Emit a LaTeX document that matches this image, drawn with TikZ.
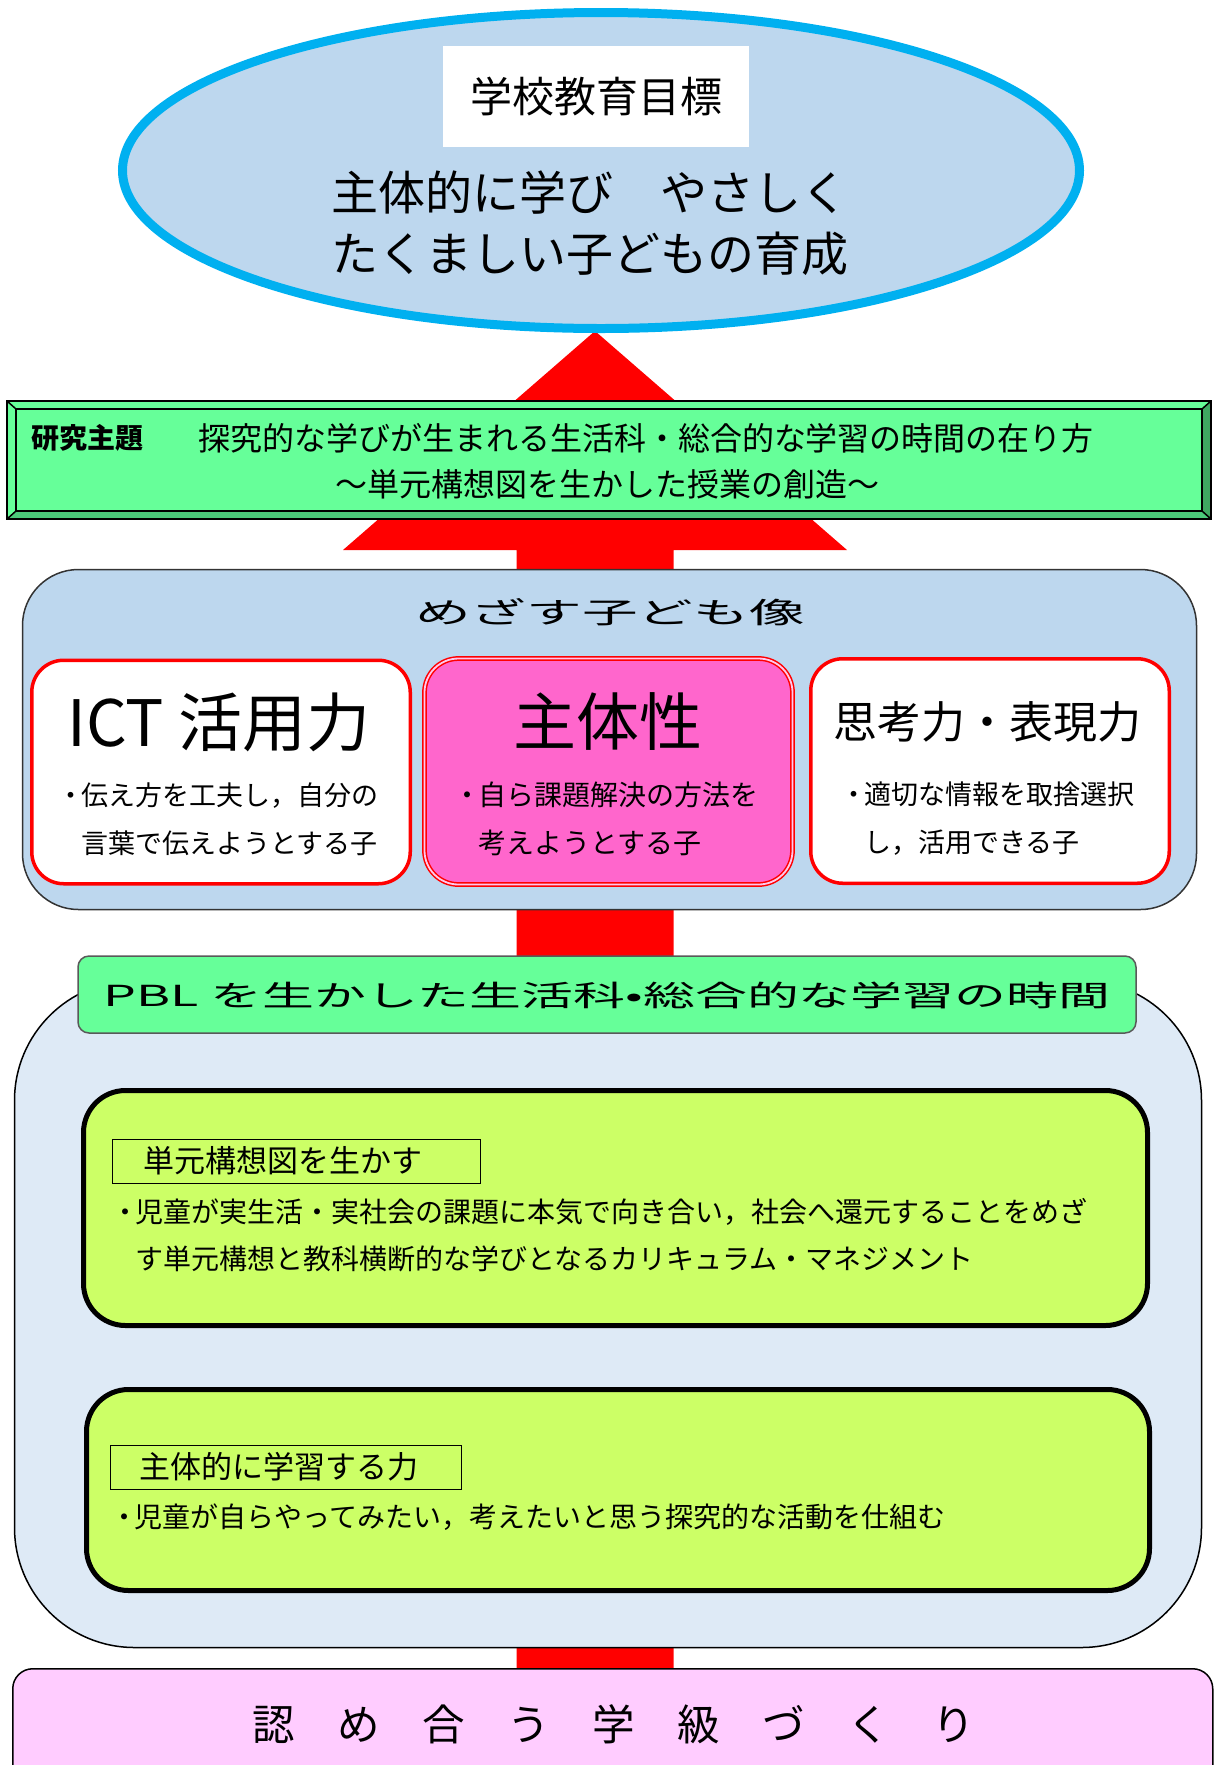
\documentclass[tikz,border=0pt]{standalone}
\usepackage{fontspec}
\usepackage{graphicx}
\setmainfont{Noto Sans CJK JP}
\usetikzlibrary{shapes.geometric,backgrounds,calc}
\definecolor{skyline}{HTML}{00B0F0}
\definecolor{paleblue}{HTML}{BDD7EE}
\definecolor{paleblueb}{HTML}{DEEAF6}
\definecolor{mint}{HTML}{66FF99}
\definecolor{mintdark}{HTML}{3FA862}
\definecolor{mintmid}{HTML}{4CC97A}
\definecolor{pinkbox}{HTML}{FF66CC}
\definecolor{pinkgap}{HTML}{FFC8EC}
\definecolor{lime}{HTML}{CCFF66}
\definecolor{lilac}{HTML}{FFCCFF}
\definecolor{arrowred}{HTML}{FF0000}
\newcommand\fs[1]{\fontsize{#1pt}{#1pt}\selectfont}
\newcommand\bul{\makebox[0.75em][c]{・}}
\tikzset{
  every node/.style={inner sep=0pt, outer sep=0pt},
  redbox/.style={draw=arrowred, line width=3.5pt, fill=white, rounded corners=32pt},
  limebox/.style={draw=black, line width=5pt, fill=lime, rounded corners=42pt},
  tagbox/.style={draw=black, line width=1pt, minimum height=44pt, align=left, font=\fs{31}},
  bullets/.style={anchor=west, align=left},
}
\begin{document}
\begin{tikzpicture}[x=1pt,y=-1pt]
\useasboundingbox (0,0) rectangle (1214,1765);
\clip (0,0) rectangle (1214,1765);

% goal ellipse
\node[ellipse, draw=skyline, line width=9pt, fill=paleblue, minimum width=957pt, minimum height=316pt] (goal) at (601,170.5) {};
\node[fill=white, minimum width=306pt, minimum height=101pt, font=\fs{42}] (goalbox) at (596,96) {学校教育目標};
\node[align=center, font=\fontsize{47pt}{61pt}\selectfont] (goaltext) at (590,223) {主体的に学び　やさしく\\たくましい子どもの育成};

% theme banner
\node[fill=mint, minimum width=1204pt, minimum height=118pt] (theme) at (609,460) {};
\coordinate (tnw) at ($(theme.north west)+(9,8)$);
\coordinate (tne) at ($(theme.north east)+(-9,8)$);
\coordinate (tsw) at ($(theme.south west)+(9,-8)$);
\coordinate (tse) at ($(theme.south east)+(-9,-8)$);
\fill[mintmid] (theme.south west) -- (theme.south east) -- (tse) -- (tsw) -- cycle;
\fill[mintdark] (theme.north east) -- (theme.south east) -- (tse) -- (tne) -- cycle;
\draw[line width=2pt] (tnw) rectangle (tse);
\draw[line width=1.5pt] (theme.north west) -- (tnw) (theme.north east) -- (tne)
  (theme.south west) -- (tsw) (theme.south east) -- (tse);
\draw[line width=2pt] (theme.north west) rectangle (theme.south east);
\node[anchor=west, font=\fs{28}\bfseries] (themelabel) at (31,438) {研究主題};
\node[anchor=west, font=\fs{32}] (themetitle) at (198,438) {探究的な学びが生まれる生活科・総合的な学習の時間の在り方};
\node[font=\fs{32}] (themesub) at (607,484) {～単元構想図を生かした授業の創造～};

% aim box
\node[draw=black!80, line width=1.5pt, fill=paleblue, rounded corners=56pt, minimum width=1174pt, minimum height=340pt] (aim) at (609.5,739.5) {};
\node[font=\fs{29}] (aimtitle) at (610,612) {\scalebox{1.92}[1]{めざす子ども像}};

\node[redbox, minimum width=378.5pt, minimum height=223.5pt] (ict) at (221,772) {};
\node[draw=arrowred, double=pinkgap, double distance=1.8pt, line width=1.5pt, fill=pinkbox, rounded corners=34pt, minimum width=368pt, minimum height=226pt] (self) at (608.5,771.5) {};
\node[redbox, minimum width=358.5pt, minimum height=224.5pt] (think) at (990,771) {};

\node[font=\fs{64}] (icttitle) at (219,722) {ICT 活用力};
\node[font=\fs{63}] (selftitle) at (608,722) {主体性};
\node[font=\fs{44}] (thinktitle) at (987,722) {思考力・表現力};

\node[bullets, font=\fontsize{27pt}{48pt}\selectfont] (icttext) at (61,819) {\bul 伝え方を工夫し，自分の\\\hspace{0.75em}言葉で伝えようとする子};
\node[bullets, font=\fontsize{28pt}{48pt}\selectfont] (selftext) at (457,819) {\bul 自ら課題解決の方法を\\\hspace{0.75em}考えようとする子};
\node[bullets, font=\fontsize{27pt}{48pt}\selectfont] (thinktext) at (844,819) {\bul 適切な情報を取捨選択\\\hspace{0.75em}し，活用できる子};

% PBL area
\node[draw=black, line width=1.5pt, fill=paleblueb, rounded corners=120pt, minimum width=1187pt, minimum height=667pt] (area) at (608,1314) {};
\node[draw=black!65, line width=1.5pt, fill=mint, rounded corners=11pt, minimum width=1058pt, minimum height=77pt] (pbl) at (607,994.5) {};
\node[font=\fs{29}] (pbltext) at (607,995) {\scalebox{1.79}[1]{PBL を生かした生活科•総合的な学習の時間}};

\node[limebox, minimum width=1064pt, minimum height=235pt] (unitbox) at (615.5,1208) {};
\node[tagbox, text width=306pt, inner xsep=31pt] (unittag) at (296,1161) {単元構想図を生かす};
\node[bullets, font=\fontsize{28pt}{47pt}\selectfont] (unittext) at (114.5,1235.5) {\bul 児童が実生活・実社会の課題に本気で向き合い，社会へ還元することをめざ\\\hspace{0.75em}す単元構想と教科横断的な学びとなるカリキュラム・マネジメント};

\node[limebox, minimum width=1063pt, minimum height=201pt] (studybox) at (618,1490) {};
\node[tagbox, text width=293pt, inner xsep=29pt] (studytag) at (285.5,1467) {主体的に学習する力};
\node[bullets, font=\fs{28}] (studytext) at (113.5,1517) {\bul 児童が自らやってみたい，考えたいと思う探究的な活動を仕組む};

% base
\node[draw=black, line width=1.5pt, fill=lilac, rounded corners=20pt, minimum width=1200pt, minimum height=140pt, anchor=north west] (base) at (12.75,1668.75) {};
\node[font=\fs{42.5}] (basetext) at (614,1724) {認　め　合　う　学　級　づ　く　り};

% red arrow behind everything
\coordinate (tip) at (595,331);
\coordinate (tail) at (595,1700);
\begin{scope}[on background layer]
\fill[arrowred] ([xshift=-78.5pt]tail) |- ([xshift=-252pt,yshift=-219pt]tip) -- (tip)
  -- ([xshift=252pt,yshift=-219pt]tip) -| ([xshift=78.5pt]tail) -- cycle;
\end{scope}
\end{tikzpicture}
\end{document}
